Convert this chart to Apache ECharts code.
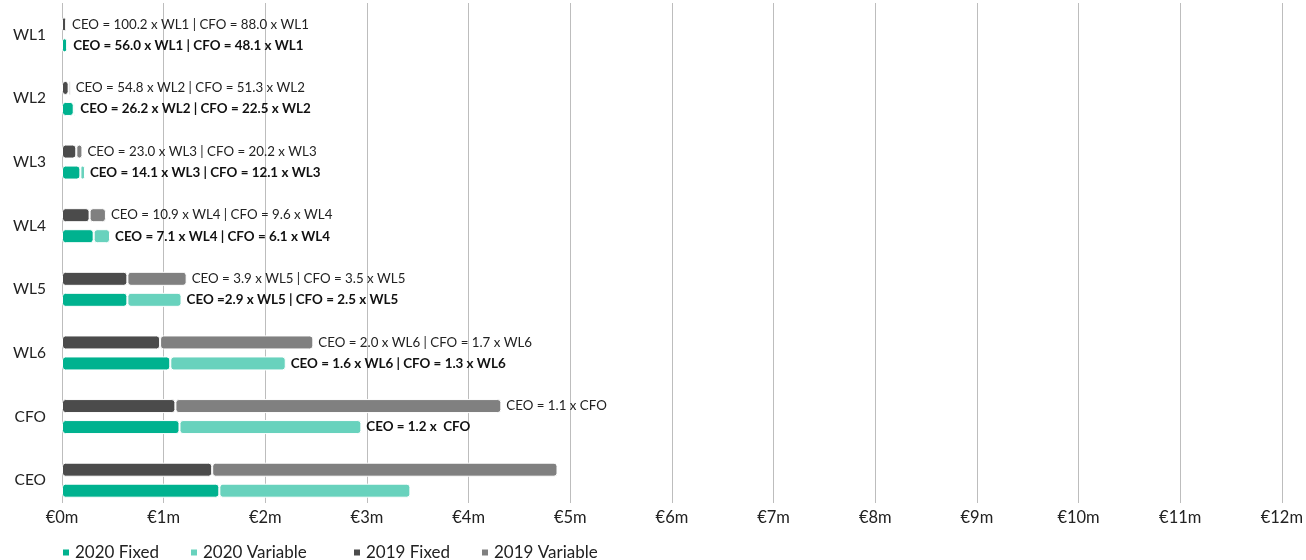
<!DOCTYPE html>
<html><head><meta charset="utf-8">
<script src="https://cdn.jsdelivr.net/npm/echarts@6/dist/echarts.min.js"></script>
<style>html,body{margin:0;padding:0;background:#fff}#c{width:1306px;height:560px}</style>
</head><body><div id="c"></div>
<script>
const categories = ['CEO','CFO','WL6','WL5','WL4','WL3','WL2','WL1'];
const fixed2019 = [1.47, 1.11, 0.96, 0.64, 0.27, 0.14, 0.065, 0.04];
const var2019   = [3.38, 3.19, 1.50, 0.58, 0.16, 0.06, 0.02, 0.008];
const fixed2020 = [1.54, 1.15, 1.06, 0.64, 0.31, 0.18, 0.115, 0.05];
const var2020   = [1.87, 1.78, 1.13, 0.53, 0.16, 0.045, 0.015, 0.01];
const notes2019 = ['', 'CEO = 1.1 x CFO', 'CEO = 2.0 x WL6 | CFO = 1.7 x WL6', 'CEO = 3.9 x WL5 | CFO = 3.5 x WL5',
  'CEO = 10.9 x WL4 | CFO = 9.6 x WL4', 'CEO = 23.0 x WL3 | CFO = 20.2 x WL3', 'CEO = 54.8 x WL2 | CFO = 51.3 x WL2',
  'CEO = 100.2 x WL1 | CFO = 88.0 x WL1'];
const notes2020 = ['', 'CEO = 1.2 x  CFO', 'CEO = 1.6 x WL6 | CFO = 1.3 x WL6', 'CEO =2.9 x WL5 | CFO = 2.5 x WL5',
  'CEO = 7.1 x WL4 | CFO = 6.1 x WL4', 'CEO = 14.1 x WL3 | CFO = 12.1 x WL3', 'CEO = 26.2 x WL2 | CFO = 22.5 x WL2',
  'CEO = 56.0 x WL1 | CFO = 48.1 x WL1'];
const xTicks = ['€0m','€1m','€2m','€3m','€4m','€5m','€6m','€7m','€8m','€9m','€10m','€11m','€12m'];
const legendNames = ['2020 Fixed','2020 Variable','2019 Fixed','2019 Variable'];

const FONT = 'Lato, "Noto Sans", sans-serif';
const common = {type:'bar', barWidth:14, barGap:'50%', xAxisIndex:1, yAxisIndex:1,
  itemStyle:{borderRadius:3, borderColor:'#fff', borderWidth:1}};
const legendLefts = [56, 184, 347, 475];
const chart = echarts.init(document.getElementById('c'));
chart.setOption({
  animation:false,
  textStyle:{fontFamily:FONT},
  grid:[
    {left:62, right:18, top:3, bottom:57, containLabel:false},
    {left:62, right:18, top:3, bottom:48, containLabel:false}
  ],
  legend: legendNames.map((n,i)=>({bottom:-6, left:legendLefts[i], icon:'rect', itemWidth:8, itemHeight:8,
    textStyle:{fontSize:17, color:'#222', fontFamily:FONT}, data:[n]})),
  xAxis:[
    {gridIndex:0, type:'value', min:0, max:12, interval:1,
      axisLine:{show:false}, axisTick:{show:false},
      axisLabel:{fontSize:16.5, color:'#222', margin:6, formatter:(v)=>xTicks[Math.round(v)]},
      splitLine:{show:true, lineStyle:{color:'#bdbdbd', width:1}}},
    {gridIndex:1, type:'value', min:0, max:12, interval:1, show:false, splitLine:{show:false}}
  ],
  yAxis:[
    {gridIndex:0, type:'value', show:false, splitLine:{show:false}},
    {gridIndex:1, type:'category', data:categories,
      axisLine:{show:false}, axisTick:{show:false}, splitLine:{show:false},
      axisLabel:{fontSize:15.5, color:'#222', margin:16}}
  ],
  series:[
    Object.assign({}, common, {name:'2019 Fixed', stack:'y2019', data:fixed2019, itemStyle:Object.assign({}, common.itemStyle, {color:'#4b4b4b'})}),
    Object.assign({}, common, {name:'2019 Variable', stack:'y2019', data:var2019, itemStyle:Object.assign({}, common.itemStyle, {color:'#808080'}),
      label:{show:true, position:'right', distance:5, fontSize:13.3, color:'#222', fontFamily:FONT,
        formatter:(p)=>notes2019[p.dataIndex]}}),
    Object.assign({}, common, {name:'2020 Fixed', stack:'y2020', data:fixed2020, itemStyle:Object.assign({}, common.itemStyle, {color:'#00b28f'})}),
    Object.assign({}, common, {name:'2020 Variable', stack:'y2020', data:var2020, itemStyle:Object.assign({}, common.itemStyle, {color:'#68d2bd'}),
      label:{show:true, position:'right', distance:5, fontSize:13.4, fontWeight:'bold', color:'#111', fontFamily:FONT,
        formatter:(p)=>notes2020[p.dataIndex]}})
  ]
});
</script></body></html>
